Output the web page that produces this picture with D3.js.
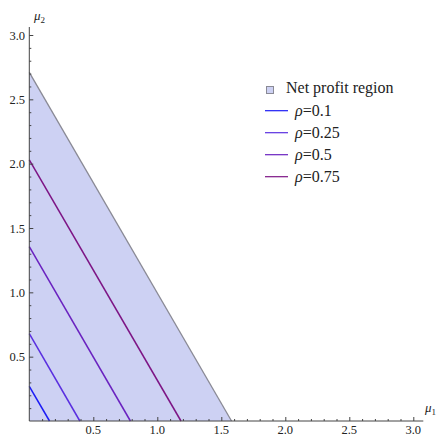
<!DOCTYPE html>
<html>
<head>
<meta charset="utf-8">
<script src="https://cdn.jsdelivr.net/npm/d3@7"></script>
<style>
  body { margin: 0; background: #fff; }
</style>
</head>
<body>
<div id="chart"></div>
<script>
// Net profit region boundary (intercepts on the two axes)
const regionX = [0, 0, 1.58];
const regionY = [0, 2.71, 0];

// rho lines: y-intercept and x-intercept
const rhoValues = [0.1, 0.25, 0.5, 0.75];
const rhoYInt = [0.27, 0.68, 1.355, 2.03];
const rhoXInt = [0.158, 0.395, 0.79, 1.185];
const rhoColors = ["#1c1cf5", "#5a2fe0", "#6a22c0", "#7d1585"];

const majorTicks = [0.5, 1.0, 1.5, 2.0, 2.5, 3.0];

const width = 445, height = 436;
const serif = "'Liberation Serif', 'Times New Roman', 'DejaVu Serif', serif";

const svg = d3.select("#chart").append("svg")
    .attr("width", width)
    .attr("height", height)
    .attr("font-family", serif);

const x = d3.scaleLinear().domain([0, 3]).range([29.3, 413.3]);
const y = d3.scaleLinear().domain([0, 3]).range([421, 35]);

// shaded region
svg.append("path")
    .datum(regionX.map((d, i) => [d, regionY[i]]))
    .attr("d", d3.line().x(d => x(d[0])).y(d => y(d[1])))
    .attr("fill", "#cdd1f3")
    .attr("stroke", "none");

// gray edge of region
svg.append("line")
    .attr("x1", x(regionX[1])).attr("y1", y(regionY[1]))
    .attr("x2", x(regionX[2])).attr("y2", y(regionY[2]))
    .attr("stroke", "#8a8a95")
    .attr("stroke-width", 1.3);

// rho lines
svg.selectAll(".rho")
    .data(rhoValues)
    .enter()
    .append("line")
    .attr("class", "rho")
    .attr("x1", x(0))
    .attr("y1", (d, i) => y(rhoYInt[i]))
    .attr("x2", (d, i) => x(rhoXInt[i]))
    .attr("y2", y(0))
    .attr("stroke", (d, i) => rhoColors[i])
    .attr("stroke-width", 1.5);

// axes (Mathematica style, ticks pointing inward)
const minor = d3.range(1, 31).map(d => d / 10);

const xAxis = d3.axisTop(x)
    .tickValues(minor)
    .tickSize(2)
    .tickFormat("");
const gx = svg.append("g")
    .attr("transform", "translate(0," + y(0) + ")")
    .call(xAxis);
gx.selectAll("line")
    .attr("y2", d => majorTicks.some(m => Math.abs(m - d) < 1e-6) ? -4 : -2);

const yAxis = d3.axisRight(y)
    .tickValues(minor)
    .tickSize(2)
    .tickFormat("");
const gy = svg.append("g")
    .attr("transform", "translate(" + x(0) + ",0)")
    .call(yAxis);
gy.selectAll("line")
    .attr("x2", d => majorTicks.some(m => Math.abs(m - d) < 1e-6) ? 4 : 2);

[gx, gy].forEach(g => {
    g.select(".domain").attr("stroke", "#444").attr("stroke-width", 1);
    g.selectAll("line").attr("stroke", "#444");
});
gx.select(".domain").attr("d", "M" + x(0) + ",0H" + (x(3) + 10));
gy.select(".domain").attr("d", "M0," + y(0) + "V" + (y(3) - 8));

// tick labels
svg.selectAll(".xlab")
    .data(majorTicks)
    .enter()
    .append("text")
    .attr("x", d => x(d))
    .attr("y", 434)
    .attr("text-anchor", "middle")
    .attr("font-size", "12.5px")
    .attr("fill", "#222")
    .text(d => d.toFixed(1));

svg.selectAll(".ylab")
    .data(majorTicks)
    .enter()
    .append("text")
    .attr("x", 25)
    .attr("y", d => y(d) + 4.5)
    .attr("text-anchor", "end")
    .attr("font-size", "12.5px")
    .attr("fill", "#222")
    .text(d => d.toFixed(1));

// axis labels
const lab2 = svg.append("text")
    .attr("x", 34).attr("y", 20)
    .attr("font-size", "13px")
    .attr("fill", "#222");
lab2.append("tspan").attr("font-style", "italic").text("μ");
lab2.append("tspan").attr("font-size", "9px").attr("dy", 3).text("2");

const lab1 = svg.append("text")
    .attr("x", 425).attr("y", 412)
    .attr("font-size", "13px")
    .attr("fill", "#222");
lab1.append("tspan").attr("font-style", "italic").text("μ");
lab1.append("tspan").attr("font-size", "9px").attr("dy", 3).text("1");

// legend
const legend = svg.append("g");

legend.append("rect")
    .attr("x", 266.5).attr("y", 86.5)
    .attr("width", 7).attr("height", 7)
    .attr("fill", "#cdd1f3")
    .attr("stroke", "#8a8a95");

legend.append("text")
    .attr("x", 286).attr("y", 93)
    .attr("font-size", "16px")
    .attr("fill", "#222")
    .text("Net profit region");

const rows = legend.selectAll(".row")
    .data(rhoValues)
    .enter()
    .append("g")
    .attr("transform", (d, i) => "translate(0," + (110.7 + i * 22) + ")");

rows.append("line")
    .attr("x1", 265).attr("x2", 288)
    .attr("stroke", (d, i) => rhoColors[i])
    .attr("stroke-width", 1.2);

rows.append("text")
    .attr("x", 295).attr("y", 5)
    .attr("font-size", "16px")
    .attr("fill", "#222")
    .each(function(d) {
        const t = d3.select(this);
        t.append("tspan").attr("font-style", "italic").text("ρ");
        t.append("tspan").text("=" + d);
    });
</script>
</body>
</html>
